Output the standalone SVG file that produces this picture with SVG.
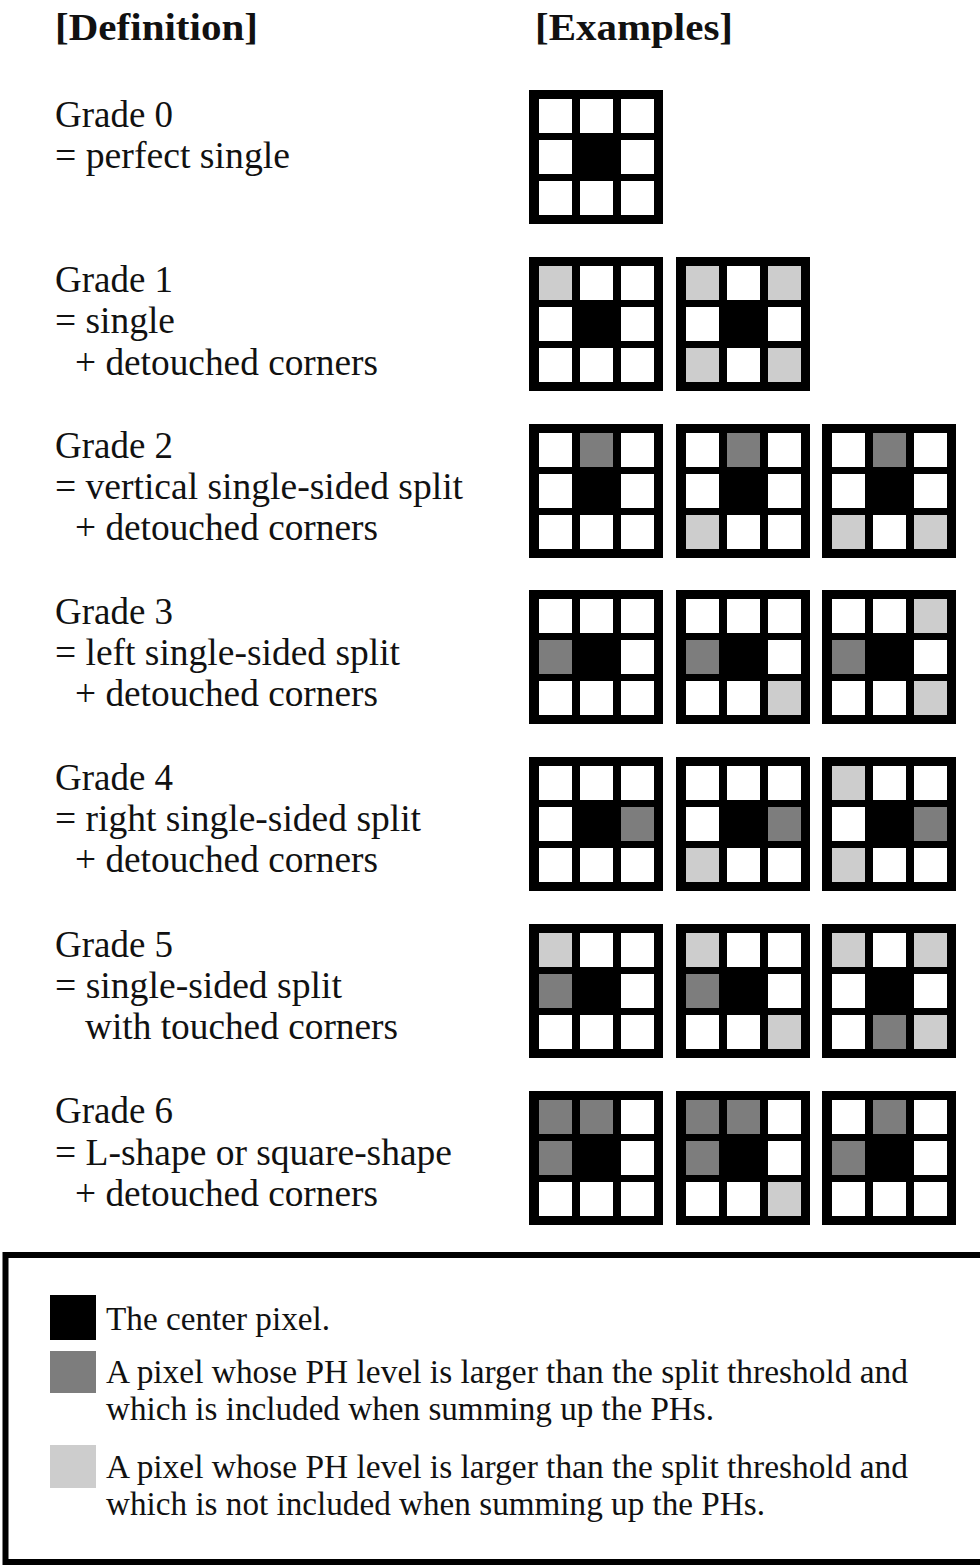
<svg xmlns="http://www.w3.org/2000/svg" xmlns:xlink="http://www.w3.org/1999/xlink" width="980" height="1566" viewBox="0 0 980 1566">
<style>
  .t { font-family: "Liberation Serif", "Times New Roman", serif; font-size: 37px; fill: #111; }
  .h { font-family: "Liberation Serif", "Times New Roman", serif; font-size: 37px; font-weight: bold; fill: #111; }
  .lg { font-family: "Liberation Serif", "Times New Roman", serif; font-size: 34px; fill: #111; }
  .w { fill: #ffffff; }
  .d { fill: #7d7d7d; }
  .l { fill: #cdcdcd; }
</style>
<defs>
  <g id="grid">
    <rect x="0" y="0" width="134" height="134" fill="#000"/>
    <rect class="w" x="10" y="9" width="33" height="34"/>
    <rect class="w" x="51" y="9" width="33" height="34"/>
    <rect class="w" x="92" y="9" width="33" height="34"/>
    <rect class="w" x="10" y="50" width="33" height="34"/>
    <rect class="w" x="92" y="50" width="33" height="34"/>
    <rect class="w" x="10" y="91" width="33" height="34"/>
    <rect class="w" x="51" y="91" width="33" height="34"/>
    <rect class="w" x="92" y="91" width="33" height="34"/>
  </g>
  <rect id="c00" x="10" y="9" width="33" height="34"/>
  <rect id="c01" x="51" y="9" width="33" height="34"/>
  <rect id="c02" x="92" y="9" width="33" height="34"/>
  <rect id="c10" x="10" y="50" width="33" height="34"/>
  <rect id="c12" x="92" y="50" width="33" height="34"/>
  <rect id="c20" x="10" y="91" width="33" height="34"/>
  <rect id="c21" x="51" y="91" width="33" height="34"/>
  <rect id="c22" x="92" y="91" width="33" height="34"/>
</defs>
<rect width="980" height="1566" fill="#fff"/>

<g id="headers">
  <text class="h" x="55" y="40" textLength="203" lengthAdjust="spacingAndGlyphs">[Definition]</text>
  <text class="h" x="535" y="40" textLength="198" lengthAdjust="spacingAndGlyphs">[Examples]</text>
</g>

<g id="def-grade0">
  <text class="t" x="55" y="127" textLength="118" lengthAdjust="spacingAndGlyphs">Grade 0</text>
  <text class="t" x="55" y="168" textLength="235" lengthAdjust="spacingAndGlyphs">= perfect single</text>
</g>
<g id="def-grade1">
  <text class="t" x="55" y="292" textLength="118" lengthAdjust="spacingAndGlyphs">Grade 1</text>
  <text class="t" x="55" y="333" textLength="120" lengthAdjust="spacingAndGlyphs">= single</text>
  <text class="t" x="75" y="375" textLength="303" lengthAdjust="spacingAndGlyphs">+ detouched corners</text>
</g>
<g id="def-grade2">
  <text class="t" x="55" y="458" textLength="118" lengthAdjust="spacingAndGlyphs">Grade 2</text>
  <text class="t" x="55" y="499" textLength="408" lengthAdjust="spacingAndGlyphs">= vertical single-sided split</text>
  <text class="t" x="75" y="540" textLength="303" lengthAdjust="spacingAndGlyphs">+ detouched corners</text>
</g>
<g id="def-grade3">
  <text class="t" x="55" y="624" textLength="118" lengthAdjust="spacingAndGlyphs">Grade 3</text>
  <text class="t" x="55" y="665" textLength="345" lengthAdjust="spacingAndGlyphs">= left single-sided split</text>
  <text class="t" x="75" y="706" textLength="303" lengthAdjust="spacingAndGlyphs">+ detouched corners</text>
</g>
<g id="def-grade4">
  <text class="t" x="55" y="790" textLength="118" lengthAdjust="spacingAndGlyphs">Grade 4</text>
  <text class="t" x="55" y="831" textLength="366" lengthAdjust="spacingAndGlyphs">= right single-sided split</text>
  <text class="t" x="75" y="872" textLength="303" lengthAdjust="spacingAndGlyphs">+ detouched corners</text>
</g>
<g id="def-grade5">
  <text class="t" x="55" y="957" textLength="118" lengthAdjust="spacingAndGlyphs">Grade 5</text>
  <text class="t" x="55" y="998" textLength="287" lengthAdjust="spacingAndGlyphs">= single-sided split</text>
  <text class="t" x="85" y="1039" textLength="313" lengthAdjust="spacingAndGlyphs">with touched corners</text>
</g>
<g id="def-grade6">
  <text class="t" x="55" y="1123" textLength="118" lengthAdjust="spacingAndGlyphs">Grade 6</text>
  <text class="t" x="55" y="1165" textLength="397" lengthAdjust="spacingAndGlyphs">= L-shape or square-shape</text>
  <text class="t" x="75" y="1206" textLength="303" lengthAdjust="spacingAndGlyphs">+ detouched corners</text>
</g>

<!-- Grade 0 -->
<g id="g0e1" transform="translate(529,90)"><use href="#grid"/></g>
<!-- Grade 1 -->
<g id="g1e1" transform="translate(529,257)"><use href="#grid"/><use href="#c00" class="l"/></g>
<g id="g1e2" transform="translate(676,257)"><use href="#grid"/><use href="#c00" class="l"/><use href="#c02" class="l"/><use href="#c20" class="l"/><use href="#c22" class="l"/></g>
<!-- Grade 2 -->
<g id="g2e1" transform="translate(529,424)"><use href="#grid"/><use href="#c01" class="d"/></g>
<g id="g2e2" transform="translate(676,424)"><use href="#grid"/><use href="#c01" class="d"/><use href="#c20" class="l"/></g>
<g id="g2e3" transform="translate(822,424)"><use href="#grid"/><use href="#c01" class="d"/><use href="#c20" class="l"/><use href="#c22" class="l"/></g>
<!-- Grade 3 -->
<g id="g3e1" transform="translate(529,590)"><use href="#grid"/><use href="#c10" class="d"/></g>
<g id="g3e2" transform="translate(676,590)"><use href="#grid"/><use href="#c10" class="d"/><use href="#c22" class="l"/></g>
<g id="g3e3" transform="translate(822,590)"><use href="#grid"/><use href="#c10" class="d"/><use href="#c02" class="l"/><use href="#c22" class="l"/></g>
<!-- Grade 4 -->
<g id="g4e1" transform="translate(529,757)"><use href="#grid"/><use href="#c12" class="d"/></g>
<g id="g4e2" transform="translate(676,757)"><use href="#grid"/><use href="#c12" class="d"/><use href="#c20" class="l"/></g>
<g id="g4e3" transform="translate(822,757)"><use href="#grid"/><use href="#c12" class="d"/><use href="#c00" class="l"/><use href="#c20" class="l"/></g>
<!-- Grade 5 -->
<g id="g5e1" transform="translate(529,924)"><use href="#grid"/><use href="#c00" class="l"/><use href="#c10" class="d"/></g>
<g id="g5e2" transform="translate(676,924)"><use href="#grid"/><use href="#c00" class="l"/><use href="#c10" class="d"/><use href="#c22" class="l"/></g>
<g id="g5e3" transform="translate(822,924)"><use href="#grid"/><use href="#c00" class="l"/><use href="#c02" class="l"/><use href="#c21" class="d"/><use href="#c22" class="l"/></g>
<!-- Grade 6 -->
<g id="g6e1" transform="translate(529,1091)"><use href="#grid"/><use href="#c00" class="d"/><use href="#c01" class="d"/><use href="#c10" class="d"/></g>
<g id="g6e2" transform="translate(676,1091)"><use href="#grid"/><use href="#c00" class="d"/><use href="#c01" class="d"/><use href="#c10" class="d"/><use href="#c22" class="l"/></g>
<g id="g6e3" transform="translate(822,1091)"><use href="#grid"/><use href="#c01" class="d"/><use href="#c10" class="d"/></g>

<g id="connectors"></g>

<g id="legend">
  <rect x="5.5" y="1255" width="1000" height="307" fill="none" stroke="#000" stroke-width="6"/>
  <rect x="50" y="1295" width="46" height="45" fill="#000"/>
  <rect x="50" y="1351" width="46" height="42" class="d"/>
  <rect x="50" y="1445" width="46" height="43" class="l"/>
  <text class="lg" x="106" y="1330" textLength="224" lengthAdjust="spacingAndGlyphs">The center pixel.</text>
  <text class="lg" x="106" y="1383" textLength="802" lengthAdjust="spacingAndGlyphs">A pixel whose PH level is larger than the split threshold and</text>
  <text class="lg" x="106" y="1420" textLength="608" lengthAdjust="spacingAndGlyphs">which is included when summing up the PHs.</text>
  <text class="lg" x="106" y="1478" textLength="802" lengthAdjust="spacingAndGlyphs">A pixel whose PH level is larger than the split threshold and</text>
  <text class="lg" x="106" y="1515" textLength="659" lengthAdjust="spacingAndGlyphs">which is not included when summing up the PHs.</text>
</g>
</svg>
